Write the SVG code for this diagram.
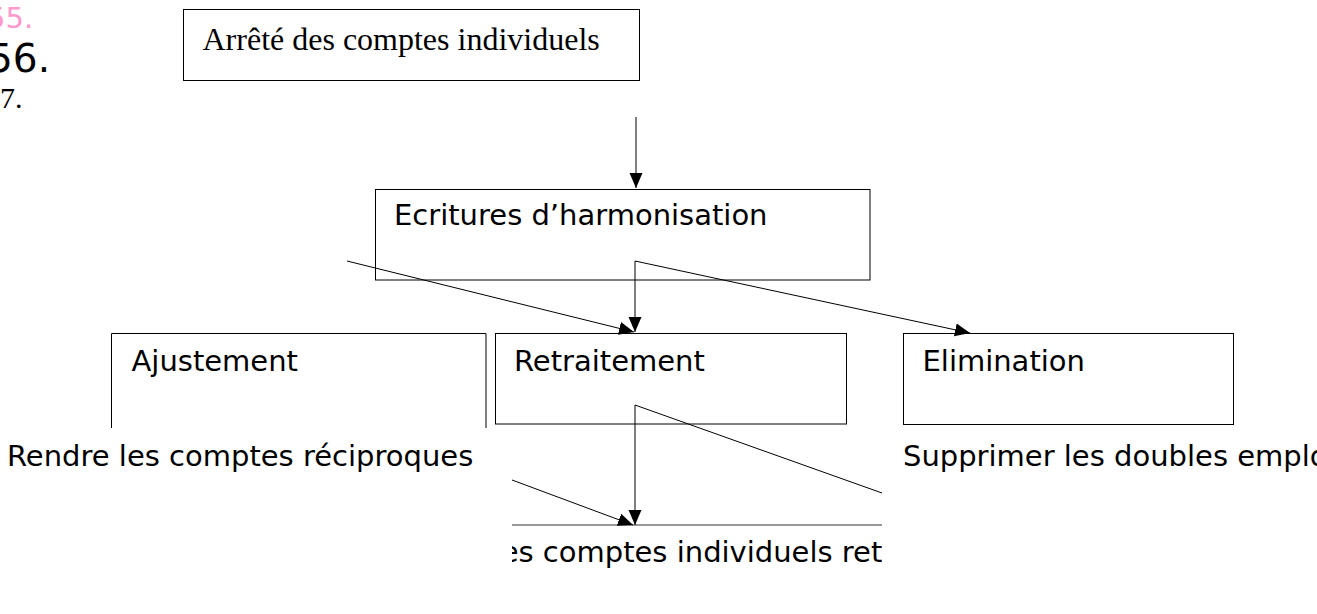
<svg xmlns="http://www.w3.org/2000/svg" width="1317" height="614" viewBox="0 0 1317 614">
<style>
.box{fill:#fff;stroke:#000;stroke-width:1}
.sans{font-family:"DejaVu Sans",sans-serif;font-size:29px;fill:#000}
.serif{font-family:"Liberation Serif",serif;fill:#000}
.ln{stroke:#000;stroke-width:1;fill:none}
</style>
<defs>
<marker id="ah" markerUnits="userSpaceOnUse" markerWidth="16" markerHeight="14" refX="15" refY="6.5" orient="auto">
<path d="M0,0 L15,6.5 L0,13 z" fill="#000"/>
</marker>
<clipPath id="clipB"><rect x="512" y="470" width="370" height="130"/></clipPath>
</defs>
<rect width="1317" height="614" fill="#fff"/>
<g id="numbers">
<text x="-13" y="28" font-family="DejaVu Sans, sans-serif" font-size="29" fill="#ff99cc">55.</text>
<text x="-12" y="72" font-family="DejaVu Sans, sans-serif" font-size="39" fill="#000">56.</text>
<text class="serif" x="0" y="108" font-size="30">7.</text>
</g>
<g id="node-arrete">
<rect class="box" x="183.5" y="9.5" width="456" height="71"/>
<text class="serif" x="202.5" y="50" font-size="32">Arrêté des comptes individuels</text>
</g>
<g id="node-ecritures">
<rect class="box" x="375.5" y="189.5" width="494.5" height="90.5"/>
<text class="sans" x="394" y="225">Ecritures d’harmonisation</text>
</g>
<g id="node-ajustement">
<path class="ln" d="M111.5,428 V333.5 H486 V428"/>
<text class="sans" x="131.5" y="371">Ajustement</text>
</g>
<g id="node-retraitement">
<rect class="box" x="495.5" y="333.5" width="351" height="90.5"/>
<text class="sans" x="514" y="371">Retraitement</text>
</g>
<g id="node-elimination">
<rect class="box" x="903.5" y="333.5" width="330" height="91"/>
<text class="sans" x="922.5" y="371">Elimination</text>
</g>
<g id="node-rendre">
<text class="sans" x="7" y="466">Rendre les comptes réciproques</text>
</g>
<g id="node-supprimer">
<text class="sans" x="903" y="466">Supprimer les doubles emplois</text>
</g>
<g id="node-resultat" clip-path="url(#clipB)">
<line x1="512" y1="525" x2="882" y2="525" stroke="#777" stroke-width="1.5"/>
<text class="sans" x="485" y="562">Les comptes individuels retraités</text>
</g>
<g id="connectors">
<line class="ln" x1="636" y1="117" x2="636" y2="188" marker-end="url(#ah)"/>
<line class="ln" x1="347" y1="261" x2="634" y2="332" marker-end="url(#ah)"/>
<line class="ln" x1="635" y1="261" x2="635" y2="332" marker-end="url(#ah)"/>
<line class="ln" x1="635" y1="261" x2="970" y2="333" marker-end="url(#ah)"/>
<line class="ln" x1="635" y1="405" x2="635" y2="525" marker-end="url(#ah)"/>
<line class="ln" x1="635" y1="405" x2="882" y2="493"/>
<line class="ln" x1="512" y1="480" x2="633" y2="525" marker-end="url(#ah)"/>
</g>
</svg>
